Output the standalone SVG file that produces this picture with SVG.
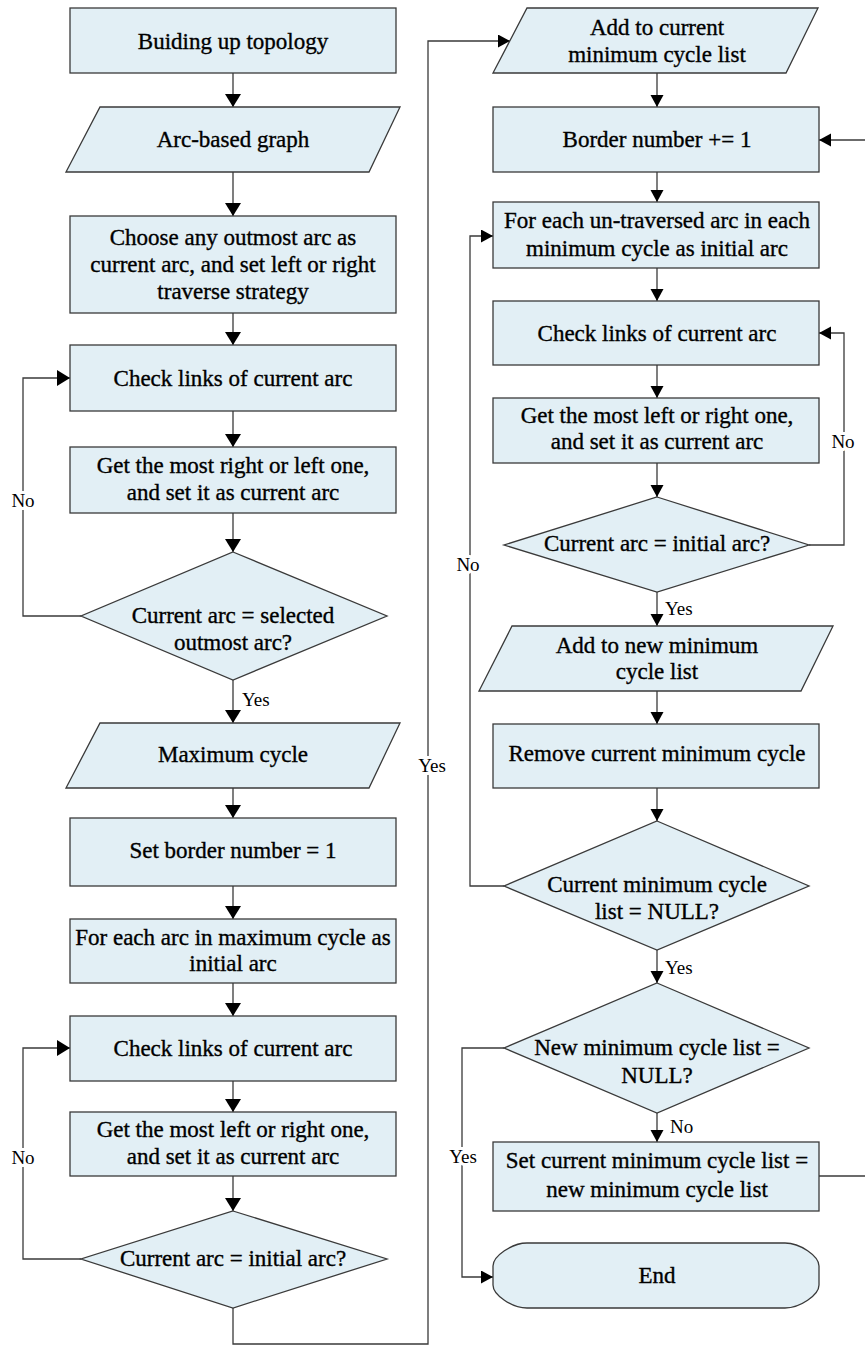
<svg xmlns="http://www.w3.org/2000/svg" width="865" height="1349" viewBox="0 0 865 1349" font-family="Liberation Serif, Times New Roman, serif">
<defs>
<style>
.n{fill:#E2EFF5;stroke:#3a3a3a;stroke-width:1.3}
.t{font-size:23px;fill:#000;stroke:#000;stroke-width:0.35px;text-anchor:middle}
.l{font-size:19px;fill:#000;paint-order:stroke;stroke:#fff;stroke-width:6px;stroke-linejoin:round}
.c{fill:none;stroke:#3a3a3a;stroke-width:1.3}
.cl{marker-end:url(#aL)}
.cr{marker-end:url(#aR)}
</style>
<marker id="aL" markerUnits="userSpaceOnUse" markerWidth="14" markerHeight="17" refX="13" refY="8" orient="auto"><path d="M0,0 L13,8 L0,16 Z" fill="#000"/></marker>
<marker id="aR" markerUnits="userSpaceOnUse" markerWidth="13" markerHeight="14" refX="12" refY="6.5" orient="auto"><path d="M0,0 L12,6.5 L0,13 Z" fill="#000"/></marker>
</defs>
<rect width="865" height="1349" fill="#fff"/>

<g id="connectors">
<path class="c cl" d="M233,73 V107"/>
<path class="c cl" d="M233,172 V216"/>
<path class="c cl" d="M233,313 V345"/>
<path class="c cl" d="M233,411 V447"/>
<path class="c cl" d="M233,513 V552"/>
<path class="c cl" d="M81,616 H23 V378 H70"/>
<path class="c cl" d="M233,680 V723"/>
<path class="c cl" d="M233,788 V818"/>
<path class="c cl" d="M233,886 V919"/>
<path class="c cl" d="M233,983 V1016"/>
<path class="c cl" d="M233,1081 V1112"/>
<path class="c cl" d="M233,1176 V1211"/>
<path class="c cl" d="M81,1259 H23 V1048 H70"/>
<path class="c cr" d="M233,1308 V1344 H428 V41 H510"/>
<path class="c cr" d="M657,73 V107"/>
<path class="c cr" d="M657,172 V202"/>
<path class="c cr" d="M657,268 V301"/>
<path class="c cr" d="M657,365 V398"/>
<path class="c cr" d="M657,463 V497"/>
<path class="c cr" d="M809,545 H844 V333 H819"/>
<path class="c cr" d="M657,592 V626"/>
<path class="c cr" d="M657,691 V724"/>
<path class="c cr" d="M657,788 V821"/>
<path class="c cr" d="M504,886 H470 V236 H493"/>
<path class="c cr" d="M657,950 V983"/>
<path class="c cr" d="M657,1113 V1142"/>
<path class="c cr" d="M504,1048 H462 V1277 H493"/>
<path class="c" d="M819,1176 H865"/>
<path class="c cr" d="M865,140 H819"/>
<text class="l" x="23" y="507" text-anchor="middle">No</text>
<text class="l" x="242" y="706">Yes</text>
<text class="l" x="23" y="1164" text-anchor="middle">No</text>
<text class="l" x="432" y="772" text-anchor="middle">Yes</text>
<text class="l" x="843" y="448" text-anchor="middle">No</text>
<text class="l" x="665" y="615">Yes</text>
<text class="l" x="468" y="571" text-anchor="middle">No</text>
<text class="l" x="665" y="974">Yes</text>
<text class="l" x="670" y="1133">No</text>
<text class="l" x="463" y="1163" text-anchor="middle">Yes</text>
</g>

<g id="n1"><rect class="n" x="70" y="8" width="326" height="65"/><text class="t" x="233" y="49">Buiding up topology</text></g>
<g id="n2"><polygon class="n" points="100,107 400,107 369,172 66,172"/><text class="t" x="233" y="147">Arc-based graph</text></g>
<g id="n3"><rect class="n" x="70" y="216" width="326" height="97"/><text class="t" x="233" y="245">Choose any outmost arc as</text><text class="t" x="233" y="272">current arc, and set left or right</text><text class="t" x="233" y="299">traverse strategy</text></g>
<g id="n4"><rect class="n" x="70" y="345" width="326" height="66"/><text class="t" x="233" y="386">Check links of current arc</text></g>
<g id="n5"><rect class="n" x="70" y="447" width="326" height="66"/><text class="t" x="233" y="473">Get the most right or left one,</text><text class="t" x="233" y="500">and set it as current arc</text></g>
<g id="d1"><polygon class="n" points="233,552 387,616 233,680 81,616"/><text class="t" x="233" y="623">Current arc = selected</text><text class="t" x="233" y="650">outmost arc?</text></g>
<g id="n6"><polygon class="n" points="100,723 400,723 369,788 66,788"/><text class="t" x="233" y="762">Maximum cycle</text></g>
<g id="n7"><rect class="n" x="70" y="818" width="326" height="68"/><text class="t" x="233" y="858">Set border number = 1</text></g>
<g id="n8"><rect class="n" x="70" y="919" width="326" height="64"/><text class="t" x="233" y="945">For each arc in maximum cycle as</text><text class="t" x="233" y="971">initial arc</text></g>
<g id="n9"><rect class="n" x="70" y="1016" width="326" height="65"/><text class="t" x="233" y="1056">Check links of current arc</text></g>
<g id="n10"><rect class="n" x="70" y="1112" width="326" height="64"/><text class="t" x="233" y="1137">Get the most left or right one,</text><text class="t" x="233" y="1164">and set it as current arc</text></g>
<g id="d2"><polygon class="n" points="233,1211 387,1259 233,1308 81,1259"/><text class="t" x="233" y="1266">Current arc = initial arc?</text></g>

<g id="r1"><polygon class="n" points="527,8 818,8 786,73 493,73"/><text class="t" x="657" y="35">Add to current</text><text class="t" x="657" y="62">minimum cycle list</text></g>
<g id="r2"><rect class="n" x="493" y="107" width="326" height="65"/><text class="t" x="657" y="147">Border number += 1</text></g>
<g id="r3"><rect class="n" x="493" y="202" width="326" height="66"/><text class="t" x="657" y="228">For each un-traversed arc in each</text><text class="t" x="657" y="256">minimum cycle as initial arc</text></g>
<g id="r4"><rect class="n" x="493" y="301" width="326" height="64"/><text class="t" x="657" y="341">Check links of current arc</text></g>
<g id="r5"><rect class="n" x="493" y="398" width="326" height="65"/><text class="t" x="657" y="423">Get the most left or right one,</text><text class="t" x="657" y="449">and set it as current arc</text></g>
<g id="d3"><polygon class="n" points="657,497 809,545 657,592 504,545"/><text class="t" x="657" y="551">Current arc = initial arc?</text></g>
<g id="r6"><polygon class="n" points="512,626 833,626 801,691 479,691"/><text class="t" x="657" y="653">Add to new minimum</text><text class="t" x="657" y="679">cycle list</text></g>
<g id="r7"><rect class="n" x="493" y="724" width="326" height="64"/><text class="t" x="657" y="761">Remove current minimum cycle</text></g>
<g id="d4"><polygon class="n" points="657,821 809,886 657,950 504,886"/><text class="t" x="657" y="892">Current minimum cycle</text><text class="t" x="657" y="919">list = NULL?</text></g>
<g id="d5"><polygon class="n" points="657,983 809,1048 657,1113 504,1048"/><text class="t" x="657" y="1055">New minimum cycle list =</text><text class="t" x="657" y="1083">NULL?</text></g>
<g id="r8"><rect class="n" x="493" y="1142" width="326" height="69"/><text class="t" x="657" y="1168">Set current minimum cycle list =</text><text class="t" x="657" y="1197">new minimum cycle list</text></g>
<g id="end"><path class="n" d="M527,1243 H785 C800,1243 819,1256 819,1266 V1285 C819,1295 800,1308 785,1308 H527 C512,1308 493,1295 493,1285 V1266 C493,1256 512,1243 527,1243 Z"/><text class="t" x="657" y="1283">End</text></g>
</svg>
